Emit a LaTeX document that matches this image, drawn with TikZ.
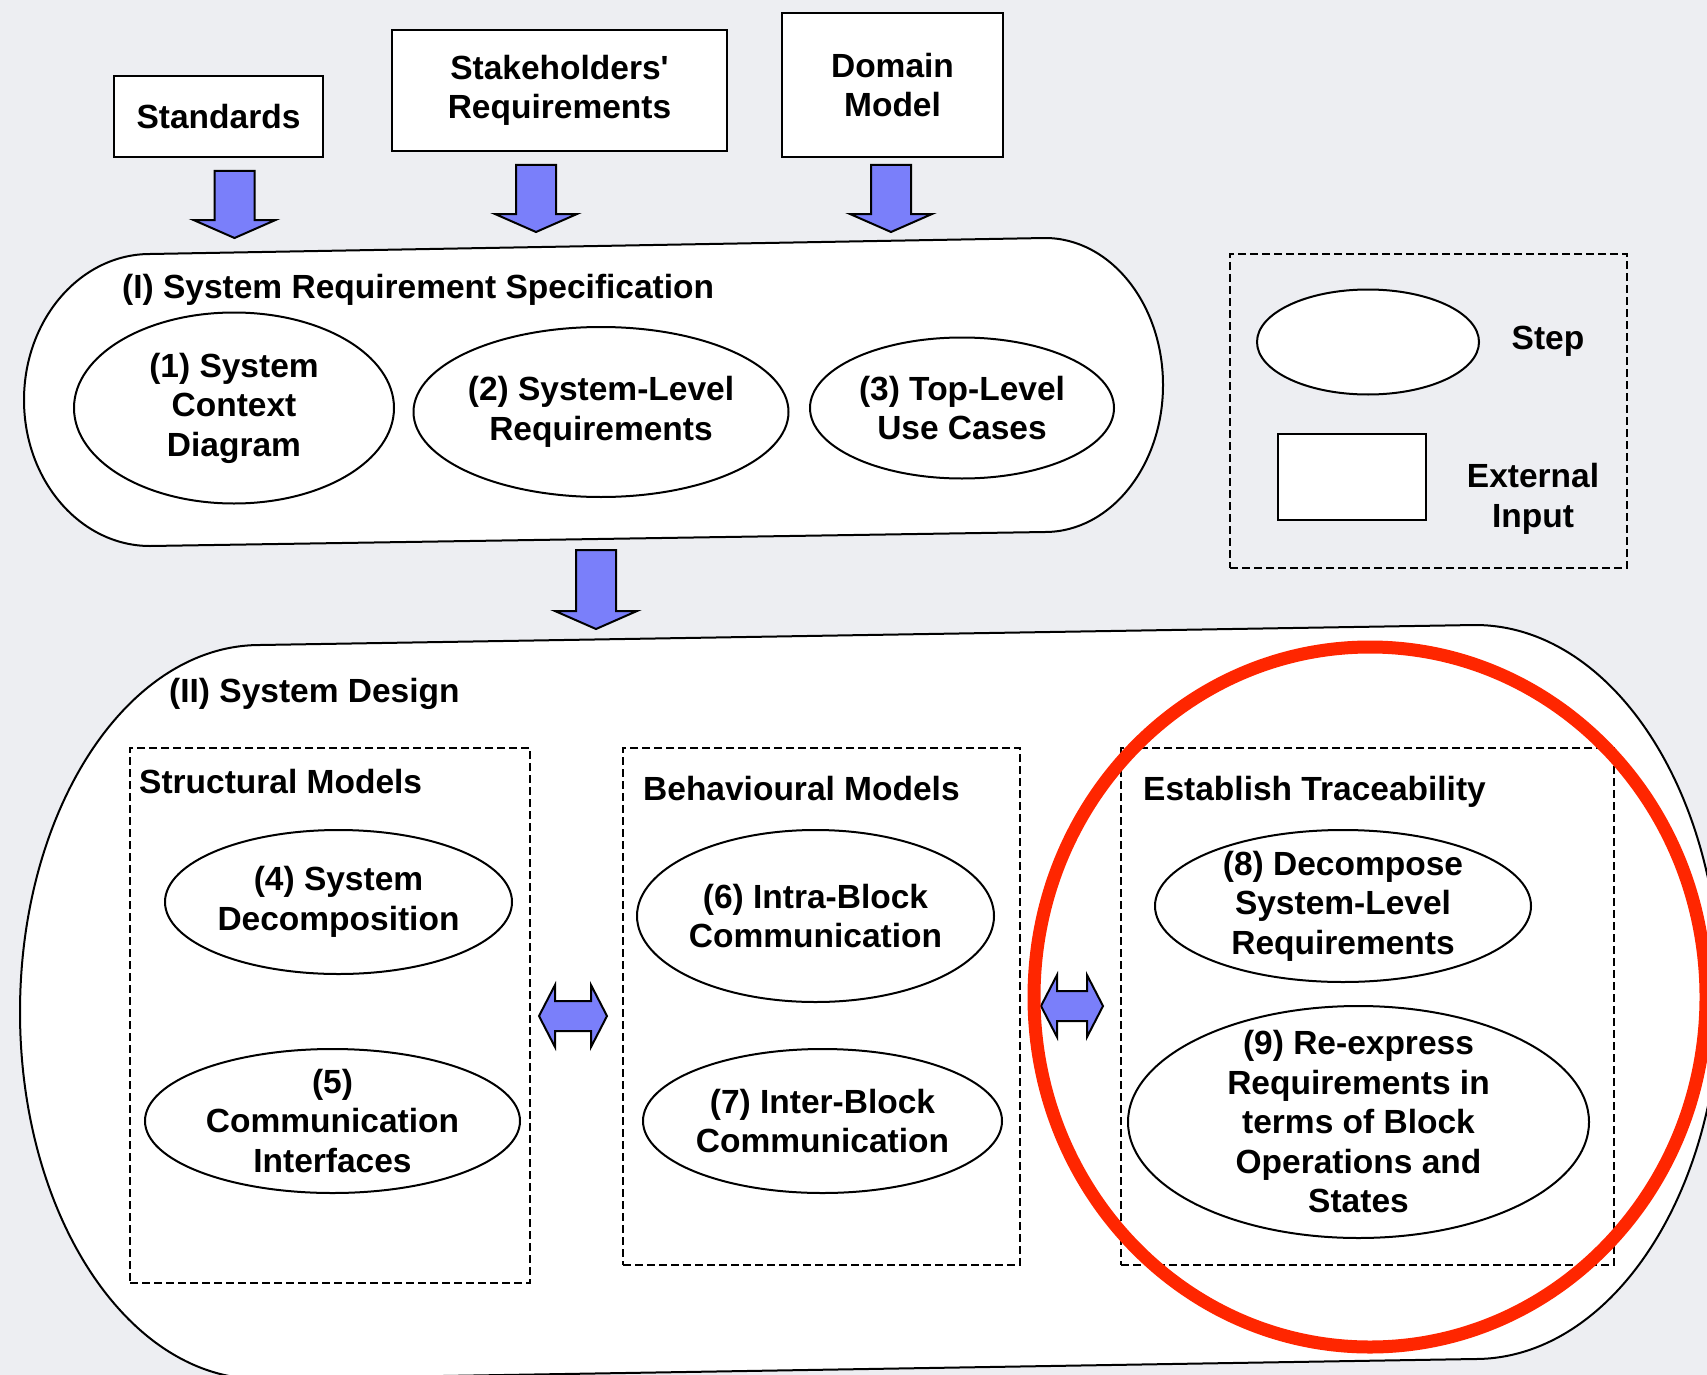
\documentclass[tikz,border=0pt]{standalone}
\usepackage{fontspec}
\setmainfont{Liberation Sans}
\usetikzlibrary{shapes.geometric}
\definecolor{bgcol}{RGB}{237,238,242}
\definecolor{arrowblue}{RGB}{122,127,250}
\definecolor{hired}{RGB}{255,38,0}
\begin{document}
\begin{tikzpicture}[x=1pt,y=-1pt,
  every node/.style={font=\fontsize{33.5pt}{39.5pt}\selectfont\bfseries},
  outline/.style={draw=black, line width=2pt, fill=white},
  stepnode/.style={ellipse, draw=black, line width=2pt, fill=white, inner sep=0pt},
  lbl/.style={align=center, inner sep=0pt},
  extbox/.style={rectangle, draw=black, line width=2.2pt, fill=white, inner sep=0pt, align=center},
  groupbox/.style={rectangle, draw=black, line width=2.2pt, dash pattern=on 8pt off 4pt, inner sep=0pt},
  blockarrow/.style={fill=arrowblue, draw=black, line width=2pt, line join=miter},
  pics/downarrow/.style={code={\path[blockarrow] (-20,0) -- (20,0) -- (20,#1) -- (41,#1) -- (0,#1+18) -- (-41,#1) -- (-20,#1) -- cycle;}},
  pics/dblarrow/.style={code={\path[blockarrow] (-#1,0) -- (-#1+16,-31) -- (-#1+16,-15) -- (#1-16,-15) -- (#1-16,-31) -- (#1,0) -- (#1-16,31) -- (#1-16,15) -- (-#1+16,15) -- (-#1+16,31) -- cycle;}},
]
\useasboundingbox (0,0) rectangle (1707,1375);
\clip (0,0) rectangle (1707,1375);
\fill[bgcol] (0,0) rectangle (1707,1375);

% (I) outline
\path[outline] (150,254) -- (1045,238)
  .. controls (1110.2,238) and (1163,303.8) .. (1163,385)
  .. controls (1163,466.2) and (1110.2,532) .. (1045,532)
  -- (150,546)
  .. controls (80.4,546) and (24,480.6) .. (24,400)
  .. controls (24,319.4) and (80.4,254) .. (150,254) -- cycle;

% (II) outline
\path[outline] (260,645) -- (1475,625)
  .. controls (1610.3,625) and (1720,789.3) .. (1720,992)
  .. controls (1720,1194.7) and (1610.3,1359) .. (1475,1359)
  -- (260,1379)
  .. controls (127.4,1379) and (20,1214.7) .. (20,1012)
  .. controls (20,809.3) and (127.4,645) .. (260,645) -- cycle;

% external inputs
\node[extbox, minimum width=209pt, minimum height=81pt] (standards) at (218.5,116.5) {Standards};
\node[extbox, minimum width=335pt, minimum height=121pt] (stake) at (559.5,90.5) {Stakeholders\textquotesingle\\Requirements};
\node[extbox, minimum width=221pt, minimum height=144pt] (domain) at (892.5,85) {Domain\\Model};

\pic at (234.5,171) {downarrow=49};
\pic at (536,165) {downarrow=49};
\pic at (891,165) {downarrow=49};
\pic at (596,550) {downarrow=61};

% (I) contents
\node[anchor=base west, inner sep=0pt] (title1) at (122,298) {(I) System Requirement Specification};
\node[stepnode, minimum width=320pt, minimum height=191pt] (s1) at (234,408) {};
\node[lbl] (t1) at (s1) {(1) System\\Context\\Diagram};
\node[stepnode, minimum width=375pt, minimum height=170pt] (s2) at (601,412) {};
\node[lbl] (t2) at (s2) {(2) System-Level\\Requirements};
\node[stepnode, minimum width=304pt, minimum height=141pt] (s3) at (962,408) {};
\node[lbl] (t3) at (s3) {(3) Top-Level\\Use Cases};

% legend
\node[groupbox, minimum width=397pt, minimum height=314pt] (legend) at (1428.5,411) {};
\node[stepnode, minimum width=222pt, minimum height=105pt] (legstep) at (1368,342) {};
\node[lbl] (legsteplbl) at (1548,341) {Step};
\node[extbox, minimum width=148pt, minimum height=86pt] (legext) at (1352,477) {};
\node[lbl] (legextlbl) at (1533,499) {External\\Input};

% (II) contents
\node[anchor=base west, inner sep=0pt] (title2) at (169,702) {(II) System Design};
\node[groupbox, minimum width=400pt, minimum height=535pt] (struct) at (330,1015.5) {};
\node[groupbox, minimum width=397pt, minimum height=517pt] (behav) at (821.5,1006.5) {};
\node[groupbox, minimum width=493pt, minimum height=517pt] (trace) at (1367.5,1006.5) {};
\node[anchor=base west, inner sep=0pt] (structlbl) at (139,793) {Structural Models};
\node[anchor=base west, inner sep=0pt] (behavlbl) at (643,800) {Behavioural Models};
\node[anchor=base west, inner sep=0pt] (tracelbl) at (1143,800) {Establish Traceability};

\node[stepnode, minimum width=347pt, minimum height=144pt] (s4) at (338.5,902) {};
\node[lbl] (t4) at (s4) {(4) System\\Decomposition};
\node[stepnode, minimum width=375pt, minimum height=144pt] (s5) at (332.5,1121) {};
\node[lbl] (t5) at (s5) {(5)\\Communication\\Interfaces};
\node[stepnode, minimum width=357pt, minimum height=172pt] (s6) at (815.5,916) {};
\node[lbl] (t6) at (s6) {(6) Intra-Block\\Communication};
\node[stepnode, minimum width=359pt, minimum height=144pt] (s7) at (822.5,1121) {};
\node[lbl] (t7) at (s7) {(7) Inter-Block\\Communication};
\node[stepnode, minimum width=376pt, minimum height=152pt] (s8) at (1343,906) {};
\node[lbl] (t8) at (s8) {(8) Decompose\\System-Level\\Requirements};
\node[stepnode, minimum width=461pt, minimum height=232pt] (s9) at (1358.5,1122) {};
\node[lbl] (t9) at (s9) {(9) Re-express\\Requirements in\\terms of Block\\Operations and\\States};

\pic at (573,1016) {dblarrow=34};
\pic at (1072,1006) {dblarrow=31};

% highlight
\node[ellipse, draw=hired, line width=13pt, minimum width=672pt, minimum height=700pt, inner sep=0pt] (focus) at (1370,997) {};
\end{tikzpicture}
\end{document}
